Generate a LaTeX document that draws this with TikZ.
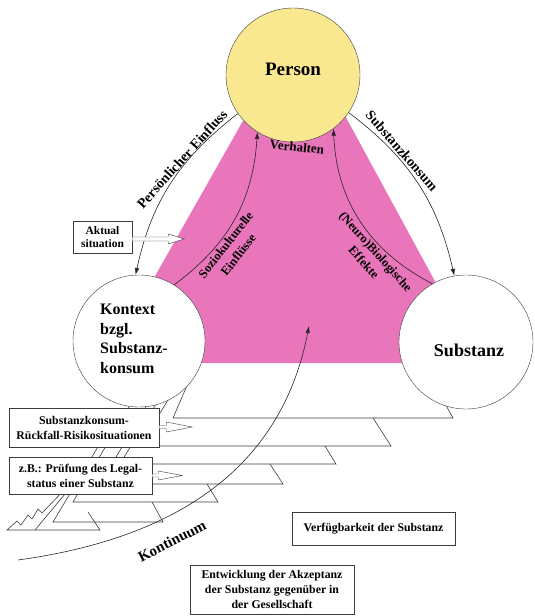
\documentclass[tikz,border=0pt]{standalone}
\usepackage{fontspec}
\setmainfont{Liberation Serif}
\usetikzlibrary{arrows.meta}
\definecolor{gelb}{RGB}{250,232,145}
\definecolor{rosa}{RGB}{233,118,187}
\definecolor{linie}{RGB}{60,60,60}
\newcommand{\schrift}[2]{\fontsize{#1}{#2}\selectfont\bfseries}

\begin{document}
\begin{tikzpicture}[x=1pt, y=-1pt]
        \tikzset{kreis/.style={draw=linie, circle, thin, minimum size=134pt, inner sep=0pt},
                 kasten/.style={draw=linie, fill=white, thin, align=center, inner sep=0pt, font=\schrift{11.8}{15}},
                 pfeil/.style={draw=black!85, semithick, -{Latex[length=7pt, width=4.5pt]}},
                 hohl/.style={draw=linie, fill=white, thin},
                 stufe/.style={draw=linie, line width=0.6pt},
                 beschrift/.style={font=\schrift{14}{16}, inner sep=0pt}}
        \useasboundingbox (0, 0) rectangle (535, 616);
        % Stufen unter dem Dreieck
        \foreach \xo/\yo/\xl/\yb/\xr/\xt/\yt in {189/381/173/418/453/443/400, 168/400/140/446/391/373/418,
                                                156/404/120/464/336/325/446, 147/405/100/484/283/270/464,
                                                130/405/73/502/218/207/484,  120/410/53/522/163/152/502}
            \draw [stufe] (\xo, \yo) -- (\xl, \yb) -- (\xr, \yb) -- (\xt, \yt);
        \draw [stufe] (66, 488) -- (42, 513) -- (38, 509) -- (32, 519) -- (28, 515) -- (21, 525) -- (17, 521)
                      -- (7, 530) -- (100, 530) -- (88, 512);
        \draw [stufe] (35, 530) -- (70, 488);
        % Dreieck
        \fill [rosa] (248, 112) -- (150, 285) -- (160, 363) -- (445, 363) -- (437, 285) -- (343, 112) -- cycle;
        \node [kreis, fill=gelb]  (person)   at (293, 75){};
        \node [kreis, fill=white, minimum size=132pt] (kontext) at (139, 341){};
        \node [kreis, fill=white] (substanz) at (466, 342){};
        \node [font=\schrift{19}{22}] (persontext) at (293, 69){Person};
        \node [font=\schrift{18}{21}] (substanztext) at (469, 350){Substanz};
        \node [font=\schrift{16}{19.5}, align=left] (kontexttext) at (134, 339){Kontext\\bzgl.\\Substanz-\\konsum};
        \draw [pfeil] (person.215) to[bend right=20] (kontext.93);
        \draw [pfeil] (person.-34) to[bend left=20] (substanz.100);
        \draw [pfeil] (kontext.58) to[bend right=25] (person.238);
        \draw [pfeil] (substanz.120) to[bend left=30] (person.-53);
        \node [beschrift, rotate=48]  (einfluss)  at (182, 159){Persönlicher Einfluss};
        \node [beschrift, rotate=-49] (konsum)    at (402, 151){Substanzkonsum};
        \node [beschrift, rotate=-6, font=\schrift{13}{14}] (verhalten) at (297, 147){Verhalten};
        \node [beschrift, rotate=52, align=center, font=\schrift{12.5}{16}]  (sozio) at (232, 250){Soziokulturelle\\Einflüsse};
        \node [beschrift, rotate=-48, align=center, font=\schrift{12.5}{16}] (neuro) at (370, 257){(Neuro)Biologische\\Effekte};
        % Kaesten
        \node [kasten, minimum width=59, minimum height=32, font=\schrift{11.5}{13}] (aktual) at (102.5, 237){Aktual\\situation};
        \node [kasten, minimum width=150, minimum height=39] (rueckfall)  at (84, 427.5){Substanzkonsum-\\Rückfall-Risikosituationen};
        \node [kasten, minimum width=143, minimum height=37] (legal)      at (80.5, 475.5){z.B.: Prüfung des Legal-\\status einer Substanz};
        \node [kasten, minimum width=163, minimum height=33] (verfuegbar) at (373.5, 529){Verfügbarkeit der Substanz};
        \node [kasten, minimum width=164, minimum height=49] (akzeptanz)  at (272, 589.5){Entwicklung der Akzeptanz\\der Substanz gegenüber in\\der Gesellschaft};
        \draw [hohl] (aktual.east) -- ++(36, 0) -- ++(0, -3) -- ++(16, 5) -- ++(-16, 5) -- ++(0, -3) -- ++(-36, 0) -- cycle;
        \draw [hohl] ([yshift=2pt]rueckfall.east) -- ++(7, 0) -- ++(0, -3.5) -- ++(26, 5) -- ++(-26, 5) -- ++(0, -3.5) -- ++(-7, 0) -- cycle;
        \draw [hohl] ([yshift=1.5pt]legal.east) -- ++(6, 0) -- ++(0, -3) -- ++(24, 4.5) -- ++(-24, 4.5) -- ++(0, -3) -- ++(-6, 0) -- cycle;
        % Kontinuum
        \coordinate (kontinuumanfang) at (18, 560);
        \coordinate (kontinuumspitze) at (309, 326);
        \draw [pfeil] (kontinuumanfang) .. controls (200, 535) and (285, 450) .. (kontinuumspitze);
        \node [font=\schrift{15}{16}, rotate=27] (kontinuum) at (172, 541){Kontinuum};
    \end{tikzpicture}
\end{document}
